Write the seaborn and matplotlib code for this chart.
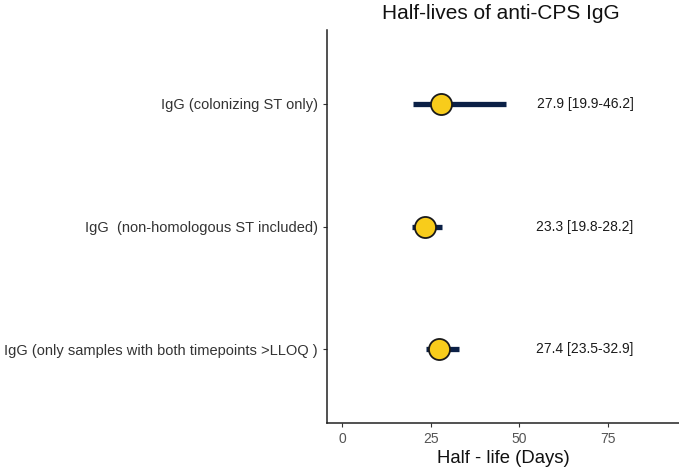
import numpy as np
import pandas as pd
import matplotlib
matplotlib.use('Agg')
import matplotlib.pyplot as plt
import seaborn as sns

# data
labels = ['IgG (colonizing ST only)',
          'IgG  (non-homologous ST included)',
          'IgG (only samples with both timepoints >LLOQ )']
half_life = [27.9, 23.3, 27.4]
ci_low = [19.9, 19.8, 23.5]
ci_high = [46.2, 28.2, 32.9]
xticks = [0, 25, 50, 75]

df = pd.DataFrame({'label': labels, 'hl': half_life, 'lo': ci_low, 'hi': ci_high})
df['txt'] = [f"{h} [{l}-{u}]" for h, l, u in zip(half_life, ci_low, ci_high)]

sns.set_style('ticks')
plt.rcParams['font.family'] = ['Liberation Sans', 'DejaVu Sans']

fig = plt.figure(figsize=(6.79, 4.71), dpi=100)
ax = fig.add_axes([0.4816, 0.102, 0.5184, 0.834])

ypos = np.arange(len(df))
ax.hlines(ypos, df['lo'], df['hi'], color='#0b2046', lw=3.8, zorder=2)
sns.scatterplot(x=df['hl'], y=ypos, ax=ax, s=230, color='#f8cc1b',
                edgecolor='#1a1a1a', linewidth=1.3, zorder=3, legend=False)
for y, t in zip(ypos, df['txt']):
    ax.text(68.5, y, t, ha='center', va='center', fontsize=10, color='#1a1a1a')

ax.set_yticks(ypos)
ax.set_yticklabels(labels, fontsize=10.5, color='#333333')
ax.set_ylim(len(df) - 1 + 0.6, -0.6)
ax.set_xlim(-4.3, 95)
ax.set_xticks(xticks)
ax.tick_params(axis='x', labelsize=10, labelcolor='#555555', length=3, color='#333333')
ax.tick_params(axis='y', length=3, color='#333333')
ax.set_xlabel('Half - life (Days)', fontsize=13.3, color='#111111', labelpad=3)
ax.set_ylabel('')
sns.despine(ax=ax)
for s in ['left', 'bottom']:
    ax.spines[s].set_linewidth(1.1)
    ax.spines[s].set_color('#222222')

fig.text(0.738, 0.972, 'Half-lives of anti-CPS IgG', ha='center', va='center',
         fontsize=15, color='#111111')

fig.savefig('out.png', dpi=100)
